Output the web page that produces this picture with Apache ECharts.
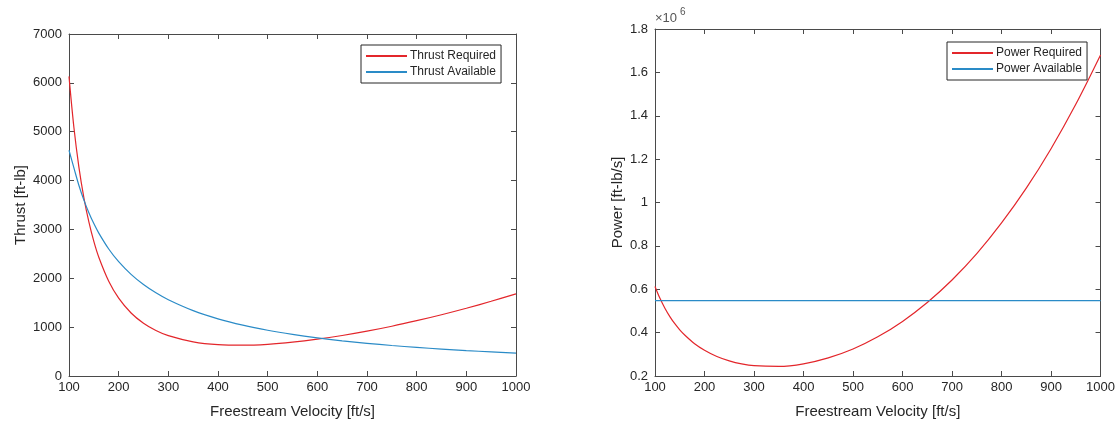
<!DOCTYPE html>
<html>
<head>
<meta charset="utf-8">
<script src="https://cdn.jsdelivr.net/npm/echarts@6/dist/echarts.min.js"></script>
<style>
html,body{margin:0;padding:0;background:#fff;}
#c{width:1118px;height:424px;}
</style>
</head>
<body>
<div id="c"></div>
<script>
// Freestream velocity samples [ft/s]
var velocity = [100,110,120,130,140,150,160,180,200,225,250,275,300,350,400,450,500,550,600,650,700,750,800,850,900,950,1000];
// Thrust [ft-lb]
var thrustRequired = [6133,5075,4271,3647,3153,2755,2431,1940,1594,1290,1080,931,825,698,641,630,649,692,753,829,918,1019,1132,1254,1387,1529,1680];
var thrustAvailable = [4620,4255,3900,3600,3343,3120,2925,2600,2340,2080,1872,1702,1560,1337,1170,1040,936,851,780,720,669,624,585,551,520,493,468];
// Power [ft-lb/s] in units of 1e6
var powerRequired = [0.613,0.558,0.5125,0.474,0.441,0.413,0.389,0.349,0.319,0.290,0.270,0.256,0.2475,0.244,0.256,0.2835,0.3245,0.3806,0.4518,0.5389,0.6426,0.764,0.9056,1.066,1.248,1.4526,1.680];
var powerAvailable = [0.548,0.548,0.548,0.548,0.548,0.548,0.548,0.548,0.548,0.548,0.548,0.548,0.548,0.548,0.548,0.548,0.548,0.548,0.548,0.548,0.548,0.548,0.548,0.548,0.548,0.548,0.548];

var xTicks = {min:100, max:1000, interval:100};
var thrustTicks = {min:0, max:7000, interval:1000};
var powerTicks = {min:0.2, max:1.8, interval:0.2};

function pairs(xs, ys){ return xs.map(function(x,i){ return [x, ys[i]]; }); }

var FONT = 'Liberation Sans, Arial, Helvetica, sans-serif';
var AX = '#4a4a4a';
var TXT = '#262626';
var RED = '#e3262b';
var BLUE = '#2a8bc7';

function xAxis(gi, bottom){
  return {
    type:'value', gridIndex:gi, position: bottom?'bottom':'top',
    min:xTicks.min, max:xTicks.max, interval:xTicks.interval,
    name: bottom ? 'Freestream Velocity [ft/s]' : '',
    nameLocation:'middle', nameGap:28,
    nameTextStyle:{fontFamily:FONT, fontSize:15, color:TXT},
    axisLine:{show:true, onZero:false, lineStyle:{color:AX, width:1}},
    axisTick:{show:true, inside:true, length:5, lineStyle:{color:AX}},
    axisLabel:{show:bottom, fontFamily:FONT, fontSize:13, color:TXT, margin:5, formatter:function(v){return String(v);}},
    splitLine:{show:false}
  };
}
function yAxis(gi, left, ticks, name, gap, fmt){
  return {
    type:'value', gridIndex:gi, position: left?'left':'right',
    min:ticks.min, max:ticks.max, interval:ticks.interval,
    name: left ? name : '',
    nameLocation:'middle', nameGap:gap, nameRotate:90,
    nameTextStyle:{fontFamily:FONT, fontSize:15, color:TXT},
    axisLine:{show:true, onZero:false, lineStyle:{color:AX, width:1}},
    axisTick:{show:true, inside:true, length:5, lineStyle:{color:AX}},
    axisLabel:{show:left, fontFamily:FONT, fontSize:13, color:TXT, margin:7, formatter:fmt},
    splitLine:{show:false}
  };
}

function legend(names, left, top){
  return {data:names, orient:'vertical', left:left, top:top,
    borderColor:'#262626', borderWidth:1, backgroundColor:'#fff', padding:[5,5,5,4], itemGap:4,
    itemWidth:41, itemHeight:12,
    itemStyle:{opacity:0, color:'rgba(0,0,0,0)', borderColor:'rgba(0,0,0,0)', borderWidth:0},
    textStyle:{fontFamily:FONT, fontSize:12, color:TXT, padding:[0,0,0,-2]}};
}

var chart = echarts.init(document.getElementById('c'), null, {renderer:'canvas'});
chart.setOption({
  animation:false,
  backgroundColor:'#fff',
  grid:[
    {left:69, top:34, width:447, height:345},
    {left:655, top:29, width:447, height:349}
  ],
  xAxis:[xAxis(0,true), xAxis(1,true), xAxis(0,false), xAxis(1,false)],
  yAxis:[
    yAxis(0,true,thrustTicks,'Thrust [ft-lb]',41,function(v){return String(v);}),
    yAxis(1,true,powerTicks,'Power [ft-lb/s]',30,function(v){return String(+v.toFixed(1));}),
    yAxis(0,false,thrustTicks,'',0,null),
    yAxis(1,false,powerTicks,'',0,null)
  ],
  legend:[
    legend(['Thrust Required','Thrust Available'], 361, 45),
    legend(['Power Required','Power Available'], 947, 42)
  ],
  series:[
    {name:'Thrust Required', type:'line', xAxisIndex:0, yAxisIndex:0, data:pairs(velocity,thrustRequired),
     smooth:0.35, symbol:'none', lineStyle:{color:RED, width:1.2}, itemStyle:{color:RED}},
    {name:'Thrust Available', type:'line', xAxisIndex:0, yAxisIndex:0, data:pairs(velocity,thrustAvailable),
     smooth:0.35, symbol:'none', lineStyle:{color:BLUE, width:1.2}, itemStyle:{color:BLUE}},
    {name:'Power Required', type:'line', xAxisIndex:1, yAxisIndex:1, data:pairs(velocity,powerRequired),
     smooth:0.35, symbol:'none', lineStyle:{color:RED, width:1.2}, itemStyle:{color:RED}},
    {name:'Power Available', type:'line', xAxisIndex:1, yAxisIndex:1, data:pairs(velocity,powerAvailable),
     symbol:'none', lineStyle:{color:BLUE, width:1.2}, itemStyle:{color:BLUE}}
  ],
  graphic:[
    {type:'text', left:655, top:12, style:{text:'×10', fontFamily:FONT, fontSize:13, fill:'#555'}},
    {type:'text', left:680, top:7, style:{text:'6', fontFamily:FONT, fontSize:10, fill:'#555'}}
  ]
});
</script>
</body>
</html>
